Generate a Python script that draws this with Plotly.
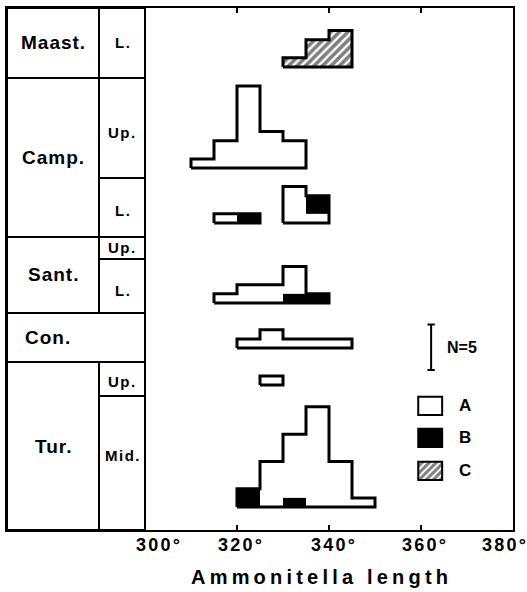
import numpy as np
import plotly.graph_objects as go

# ---------------- data (counts per 5-degree bin) ----------------
BIN_WIDTH = 5

MAAST_L_BINS = [330, 335, 340]
MAAST_L_C = [1, 3, 4]

CAMP_UP_BINS = [310, 315, 320, 325, 330]
CAMP_UP_A = [1, 3, 9, 4, 3]

CAMP_L_BINS = [315, 320, 325, 330, 335]
CAMP_L_A = [1, 0, 0, 4, 1]
CAMP_L_B = [0, 1, 0, 0, 2]

SANT_L_BINS = [315, 320, 325, 330, 335]
SANT_L_A = [1, 2, 2, 3, 0]
SANT_L_B = [0, 0, 0, 1, 1]

CON_BINS = [320, 325, 330, 335, 340]
CON_A = [1, 2, 1, 1, 1]

TUR_UP_BINS = [325]
TUR_UP_A = [1]

TUR_MID_BINS = [320, 325, 330, 335, 340, 345]
TUR_MID_A = [0, 5, 7, 11, 5, 1]
TUR_MID_B = [2, 0, 1, 0, 0, 0]

# stratigraphic column (levels in count units on the y axis)
STAGES = ["Maast.", "Camp.", "Sant.", "Con.", "Tur."]
STAGE_TOPS = [57.36, 49.67, 32.20, 23.85, 18.46]
STAGE_BOTTOMS = [49.67, 32.20, 23.85, 18.46, 0.0]
SUBSTAGES = ["L.", "Up.", "L.", "Up.", "L.", "Up.", "Mid."]
SUB_TOPS = [57.36, 49.67, 38.68, 32.20, 29.78, 18.46, 14.73]
SUB_BOTTOMS = [49.67, 38.68, 32.20, 29.78, 23.85, 14.73, 0.0]

XTICKS = [300, 320, 340, 360, 380]
XTICK_LABELS = ["300°", "320°", "340°", "360°", "380°"]
LEGEND_LABELS = ["A", "B", "C"]
SCALE_N = 5

# ---------------- layout constants ----------------
X_MIN, X_MAX = 270, 380
Y_MAX = 57.36
COL_LEFT, COL_MID, COL_RIGHT = 270, 290, 300
FONT = "Liberation Sans, Arial, Helvetica, sans-serif"
OUT_W = 3.0

# histograms: bins, A, B, C, baseline, B-on-top
HISTS = [
    (MAAST_L_BINS, None, None, MAAST_L_C, 50.88, False),
    (CAMP_UP_BINS, CAMP_UP_A, None, None, 39.78, False),
    (CAMP_L_BINS, CAMP_L_A, CAMP_L_B, None, 33.74, True),
    (SANT_L_BINS, SANT_L_A, SANT_L_B, None, 24.95, False),
    (CON_BINS, CON_A, None, None, 20.0, False),
    (TUR_UP_BINS, TUR_UP_A, None, None, 15.93, False),
    (TUR_MID_BINS, TUR_MID_A, TUR_MID_B, None, 2.53, False),
]


def arr(v, n):
    return np.zeros(n) if v is None else np.asarray(v, float)


def outline(bins, tot, base):
    xs, ys = [], []
    n = len(bins)
    i = 0
    while i < n:
        if tot[i] <= 0:
            i += 1
            continue
        j = i
        while j + 1 < n and tot[j + 1] > 0:
            j += 1
        xs.append(bins[i]); ys.append(base)
        for k in range(i, j + 1):
            xs += [bins[k], bins[k] + BIN_WIDTH]
            ys += [base + tot[k], base + tot[k]]
        xs += [bins[j] + BIN_WIDTH, bins[i], None]
        ys += [base, base, None]
        i = j + 1
    return xs, ys


HATCH = dict(shape="/", fgcolor="black", bgcolor="white", size=6, solidity=0.6)

fig = go.Figure()

for bins, A, B, C, base, b_top in HISTS:
    n = len(bins)
    a, b, c = arr(A, n), arr(B, n), arr(C, n)
    centers = np.asarray(bins, float) + BIN_WIDTH / 2
    m = b > 0
    if m.any():
        fig.add_trace(go.Bar(
            x=centers[m], y=b[m], base=(base + (a[m] if b_top else 0 * a[m])),
            width=BIN_WIDTH, marker=dict(color="black", line=dict(width=0)),
            hoverinfo="skip"))
    m = c > 0
    if m.any():
        fig.add_trace(go.Bar(
            x=centers[m], y=c[m], base=base + a[m] + b[m],
            width=BIN_WIDTH,
            marker=dict(color="white", line=dict(width=0), pattern=HATCH),
            hoverinfo="skip"))
    xs, ys = outline(bins, a + b + c, base)
    fig.add_trace(go.Scatter(x=xs, y=ys, mode="lines",
                             line=dict(color="black", width=OUT_W),
                             hoverinfo="skip"))

# ---------------- legend (drawn in the plot) ----------------
LEG_X = 362.0
LEG_W = 5.2
LEG_H = 2.0
LEG_BASES = [12.64, 9.12, 5.49]
leg_styles = [
    dict(color="white", line=dict(color="black", width=2)),
    dict(color="black", line=dict(color="black", width=2)),
    dict(color="white", line=dict(color="black", width=2),
         pattern=dict(shape="/", fgcolor="black", bgcolor="white", size=5, solidity=0.6)),
]
for lb, st, lab in zip(LEG_BASES, leg_styles, LEGEND_LABELS):
    fig.add_trace(go.Bar(x=[LEG_X], y=[LEG_H], base=[lb], width=LEG_W,
                         marker=st, hoverinfo="skip"))
    fig.add_annotation(x=369.6, y=lb + LEG_H / 2, text=lab, showarrow=False,
                       font=dict(family=FONT, size=17, weight="bold", color="black"))

# N=5 scale bar
SB_X, SB_Y, CAP = 362.2, 17.58, 0.8
fig.add_trace(go.Scatter(
    x=[SB_X - CAP, SB_X + CAP, None, SB_X, SB_X, None, SB_X - CAP, SB_X + CAP],
    y=[SB_Y, SB_Y, None, SB_Y, SB_Y + SCALE_N, None, SB_Y + SCALE_N, SB_Y + SCALE_N],
    mode="lines", line=dict(color="black", width=2), hoverinfo="skip"))
fig.add_annotation(x=369.0, y=SB_Y + SCALE_N / 2, text=f"N={SCALE_N}", showarrow=False,
                   font=dict(family=FONT, size=16, weight="bold", color="black"))

# ---------------- stratigraphic column ----------------
shapes = []
for name, top, bot in zip(STAGES, STAGE_TOPS, STAGE_BOTTOMS):
    shapes.append(dict(type="rect", xref="x", yref="y", x0=COL_LEFT, x1=COL_RIGHT,
                       y0=bot, y1=top, line=dict(color="black", width=2)))
for name, top, bot in zip(SUBSTAGES, SUB_TOPS, SUB_BOTTOMS):
    shapes.append(dict(type="rect", xref="x", yref="y", x0=COL_MID, x1=COL_RIGHT,
                       y0=bot, y1=top, line=dict(color="black", width=2)))


def sp(t, ls):
    return f'<span style="letter-spacing:{ls}px">{t}</span>'


stage_x = [280, 280, 280, 279, 280]
for name, top, bot, sx in zip(STAGES, STAGE_TOPS, STAGE_BOTTOMS, stage_x):
    fig.add_annotation(x=sx, y=(top + bot) / 2, text=sp(name, 1.0), showarrow=False,
                       font=dict(family=FONT, size=19, weight="bold", color="black"))
sub_dy = [0, -0.5, -0.3, 0, -0.5, -0.3, 0.8]
for name, top, bot, dy in zip(SUBSTAGES, SUB_TOPS, SUB_BOTTOMS, sub_dy):
    fig.add_annotation(x=COL_MID + (COL_RIGHT - COL_MID) / 2 + 0.2, y=(top + bot) / 2 + dy,
                       text=sp(name, 1.5), showarrow=False,
                       font=dict(family=FONT, size=15, weight="bold", color="black"))

# x tick labels
tick_shift = [14, 4, 5, 4, -8]
for v, lab, dx in zip(XTICKS, XTICK_LABELS, tick_shift):
    fig.add_annotation(x=v, y=0, yref="y", text=sp(lab, 2.2), showarrow=False,
                       yanchor="top", yshift=-3, xshift=dx,
                       font=dict(family=FONT, size=18, weight="bold", color="black"))

fig.add_annotation(x=338.4, y=(592 - 577) / 592, xref="x", yref="paper", yanchor="middle",
                   text=sp("Ammonitella length", 4.2), showarrow=False,
                   font=dict(family=FONT, size=20, weight="bold", color="black"))

fig.update_layout(
    width=527, height=592, margin=dict(l=0, r=0, t=0, b=0),
    plot_bgcolor="white", paper_bgcolor="white", showlegend=False,
    barmode="overlay", shapes=shapes,
    xaxis=dict(domain=[7 / 527, 513 / 527], range=[X_MIN, X_MAX], tickvals=XTICKS,
               showticklabels=False, ticks="inside", ticklen=5, tickwidth=2,
               tickcolor="black", showline=True, linecolor="black", linewidth=2,
               mirror="ticks", showgrid=False, zeroline=False, fixedrange=True),
    yaxis=dict(domain=[62 / 592, 584 / 592], range=[0, Y_MAX], showline=True,
               linecolor="black", linewidth=2, mirror=True, ticks="",
               showticklabels=False, showgrid=False, zeroline=False, fixedrange=True),
)

fig.write_html("out.html")
